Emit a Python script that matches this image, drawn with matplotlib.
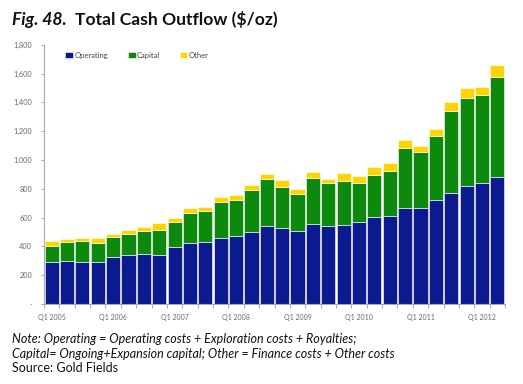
import matplotlib
matplotlib.use("Agg")
import matplotlib.pyplot as plt
import numpy as np

# quarters Q1 2005 .. Q2 2012
quarters = []
for yr in range(2005, 2013):
    for q in range(1, 5):
        quarters.append("Q%d %d" % (q, yr))
quarters = quarters[:30]

operating = [293, 300, 293, 289, 328, 340, 345, 340, 393, 423,
             430, 458, 470, 502, 541, 527, 506, 553, 541, 546,
             569, 606, 610, 666, 666, 721, 768, 816, 837, 879]
capital = [109, 128, 146, 132, 134, 146, 164, 173, 176, 206,
           213, 250, 249, 287, 324, 287, 255, 319, 296, 307,
           268, 289, 314, 416, 386, 442, 571, 611, 611, 698]
other = [33, 25, 21, 39, 21, 27, 27, 51, 30, 39,
         32, 34, 37, 39, 37, 46, 37, 46, 30, 56,
         51, 58, 54, 56, 46, 53, 60, 69, 60, 79]

blue = "#0b1a8e"
green = "#0d8a0d"
yellow = "#ffd400"
grey = "#6a6a6a"

plt.rcParams['font.family'] = ['Lato', 'DejaVu Sans']

fig = plt.figure(figsize=(5.23, 3.84), dpi=100)
ax = fig.add_axes([44/523, 1-304/384, (505-44)/523, (304-44.7)/384])

x = np.arange(len(quarters))
op = np.array(operating)
cap = np.array(capital)
oth = np.array(other)
w = 0.92
ax.bar(x, op, w, color=blue, edgecolor="white", linewidth=0.4, label="Operating")
ax.bar(x, cap, w, bottom=op, color=green, edgecolor="white", linewidth=0.4, label="Capital")
ax.bar(x, oth, w, bottom=op+cap, color=yellow, edgecolor="white", linewidth=0.4, label="Other")

ax.set_xlim(-0.5, len(quarters)-0.5)
ax.set_ylim(0, 1800)

yt = list(range(0, 1801, 200))
ax.set_yticks(yt)
ax.set_yticklabels(["-" if v == 0 else "{:,}".format(int(v)) for v in yt],
                   fontsize=5.3, color=grey)
ax.tick_params(axis='y', length=2.5, width=0.6, color="#999999", pad=6)

ax.set_xticks(x[::4])
ax.set_xticklabels(quarters[::4], fontsize=5, color=grey)
ax.set_xticks(np.arange(-0.5, len(quarters)), minor=True)
ax.tick_params(axis='x', which='major', length=0, pad=7)
ax.tick_params(axis='x', which='minor', length=3, width=0.6, color="#999999")

for s in ['top', 'right']:
    ax.spines[s].set_visible(False)
for s in ['left', 'bottom']:
    ax.spines[s].set_color("#aaaaaa")
    ax.spines[s].set_linewidth(0.8)

leg = ax.legend(loc='upper left', bbox_to_anchor=(0.04, 0.985), ncol=3, frameon=False,
                fontsize=5.5, handlelength=1.0, handleheight=1.0, handletextpad=0.15,
                columnspacing=2.6, borderaxespad=0)
for t in leg.get_texts():
    t.set_color("#444444")

# title
t1 = fig.text(12/523, 1-25/384, "Fig. 48.", fontsize=12.6, fontweight='bold',
              fontstyle='italic', color="#111111")
fig.canvas.draw()
bb = t1.get_window_extent()
fig.text((bb.x1 + 8)/523, 1-25/384, "Total Cash Outflow ($/oz)", fontsize=12.6,
         fontweight='bold', color="#111111")

fig.text(12/523, 1-343/384, "Note: Operating = Operating costs + Exploration costs + Royalties;",
         fontsize=9.0, fontstyle='italic', color="#111111")
fig.text(12/523, 1-358/384, "Capital= Ongoing+Expansion capital; Other = Finance costs + Other costs",
         fontsize=9.0, fontstyle='italic', color="#111111")
fig.text(12/523, 1-372/384, "Source: Gold Fields", fontsize=9.0, color="#111111")

fig.savefig("out.png", dpi=100)
